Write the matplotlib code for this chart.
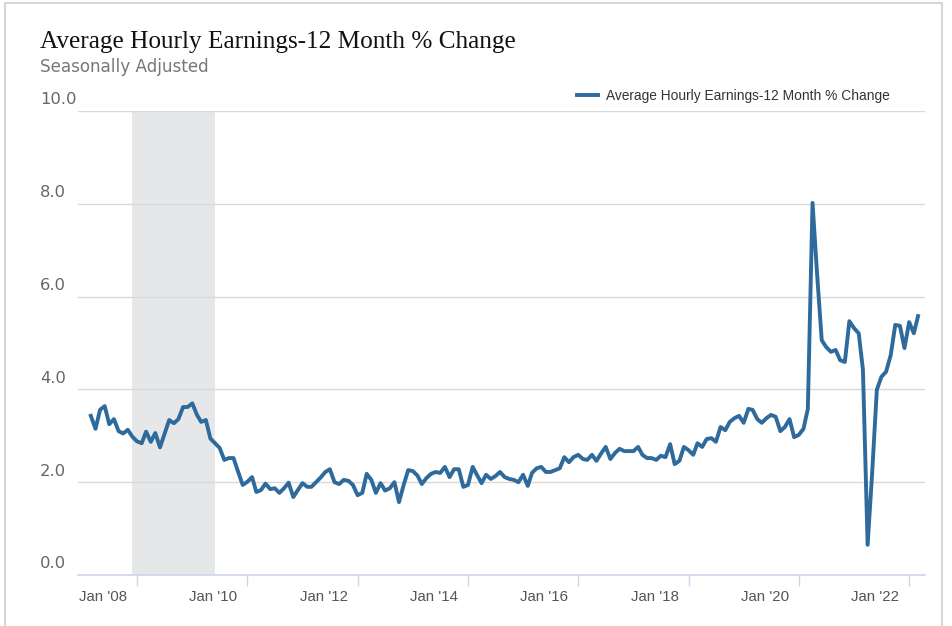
"""
Average Hourly Earnings - 12 month % change, seasonally adjusted
"""

import pandas as pd
import matplotlib
matplotlib.use("Agg")
from matplotlib import pyplot as plt
from matplotlib.transforms import ScaledTranslation, blended_transform_factory
from matplotlib.patches import Rectangle

# monthly values, Mar 2007 .. Mar 2022
ahe_change = [
    3.43, 3.15, 3.56, 3.64, 3.25, 3.36, 3.10, 3.05, 3.13, 2.98,
    2.88, 2.84, 3.09, 2.87, 3.06, 2.75, 3.04, 3.34, 3.27, 3.36,
    3.62, 3.62, 3.70, 3.45, 3.30, 3.34, 2.94, 2.84, 2.74, 2.48,
    2.52, 2.52, 2.22, 1.94, 2.01, 2.11, 1.79, 1.83, 1.97, 1.85,
    1.87, 1.77, 1.87, 1.99, 1.68, 1.83, 1.98, 1.90, 1.90, 2.00,
    2.10, 2.22, 2.28, 2.00, 1.96, 2.05, 2.03, 1.94, 1.72, 1.77,
    2.18, 2.05, 1.77, 1.98, 1.82, 1.87, 2.00, 1.57, 1.94, 2.26,
    2.24, 2.14, 1.96, 2.09, 2.18, 2.22, 2.20, 2.33, 2.11, 2.28,
    2.28, 1.90, 1.94, 2.33, 2.16, 1.98, 2.16, 2.07, 2.13, 2.22,
    2.11, 2.07, 2.05, 2.00, 2.16, 1.92, 2.20, 2.30, 2.33, 2.22,
    2.22, 2.26, 2.30, 2.54, 2.43, 2.54, 2.59, 2.50, 2.48, 2.59,
    2.46, 2.62, 2.76, 2.50, 2.63, 2.72, 2.67, 2.67, 2.67, 2.76,
    2.59, 2.52, 2.52, 2.48, 2.57, 2.54, 2.82, 2.39, 2.46, 2.76,
    2.69, 2.59, 2.84, 2.76, 2.93, 2.95, 2.87, 3.19, 3.12, 3.30,
    3.38, 3.43, 3.28, 3.58, 3.56, 3.36, 3.28, 3.38, 3.45, 3.41,
    3.10, 3.19, 3.36, 2.97, 3.02, 3.15, 3.58, 8.02, 6.50, 5.06,
    4.91, 4.81, 4.85, 4.63, 4.59, 5.47, 5.32, 5.21, 4.42, 0.65,
    2.20, 3.99, 4.27, 4.38, 4.74, 5.39, 5.37, 4.89, 5.45, 5.21,
    5.58,
]
months = pd.date_range("2007-03-01", periods=len(ahe_change), freq="MS")

recession_start = "2007-12-01"
recession_end = "2009-06-01"

y_ticks = [0, 2, 4, 6, 8, 10]
y_labels = ["0.0", "2.0", "4.0", "6.0", "8.0", "10.0"]
x_tick_years = [2008, 2010, 2012, 2014, 2016, 2018, 2020, 2022]
x_labels = ["Jan '08", "Jan '10", "Jan '12", "Jan '14",
            "Jan '16", "Jan '18", "Jan '20", "Jan '22"]

series_name = "Average Hourly Earnings-12 Month % Change"
line_color = "#2e6a9b"

W, H = 953, 626
fig = plt.figure(figsize=(W / 100, H / 100), dpi=100)
ax = fig.add_axes([78 / W, 1 - 575 / H, (925 - 78) / W, (575 - 111) / H])

# outer frame
fig.add_artist(Rectangle((5 / W, -0.1), (942 - 5) / W, 1.1 - 3 / H,
                         transform=fig.transFigure, fill=False,
                         edgecolor="#d6d6d6", lw=1.5))

ax.axvspan(pd.Timestamp(recession_start), pd.Timestamp(recession_end),
           color="#e6e7e9", lw=0, zorder=0)
ax.plot(months, ahe_change, color=line_color, lw=2.8, zorder=3,
        solid_joinstyle="round", label=series_name)

ax.set_ylim(0, 10)
ax.set_xlim(pd.Timestamp("2006-12-06"), pd.Timestamp("2022-04-16"))

ax.set_yticks(y_ticks)
ax.set_yticklabels([])
ax.tick_params(axis="y", length=0)
ax.grid(axis="y", color="#d9d9d9", lw=1)
ax.set_axisbelow(True)

for s in ["top", "left", "right"]:
    ax.spines[s].set_visible(False)
ax.spines["bottom"].set_color("#ccd6eb")
ax.spines["bottom"].set_linewidth(1.2)

# y labels sit above the grid lines at the left edge
trans = blended_transform_factory(fig.transFigure, ax.transData)
for v, lab in zip(y_ticks, y_labels):
    ax.text(40 / W, v, lab, transform=trans + ScaledTranslation(0, 11 / 100, fig.dpi_scale_trans),
            ha="left", va="center", fontsize=11.8, color="#666666",
            family="DejaVu Sans")

ax.set_xticks([pd.Timestamp(f"{y}-01-01") for y in x_tick_years])
ax.set_xticklabels(x_labels, fontsize=10.8, color="#555555",
                   family=["Liberation Sans", "DejaVu Sans"])
ax.tick_params(axis="x", length=8, width=1, color="#ccd6eb", pad=3)
for lab in ax.get_xticklabels():
    lab.set_transform(lab.get_transform() + ScaledTranslation(-34 / 100, 0, fig.dpi_scale_trans))

fig.text(40 / W, 1 - 42 / H, series_name, fontsize=18.2, color="#111111",
         family=["Liberation Serif", "DejaVu Serif"], va="center", ha="left")
fig.text(40 / W, 1 - 67 / H, "Seasonally Adjusted", fontsize=12.1, color="#777777",
         family="DejaVu Sans", va="center", ha="left")

fig.legend(loc="center left", bbox_to_anchor=(577 / W, 1 - 96 / H), frameon=False,
           handlelength=1.5, handletextpad=0.6, borderpad=0,
           borderaxespad=0, labelcolor="#333333",
           prop={"family": ["Liberation Sans", "DejaVu Sans"], "size": 9.9})

fig.savefig("out.png", dpi=100)
